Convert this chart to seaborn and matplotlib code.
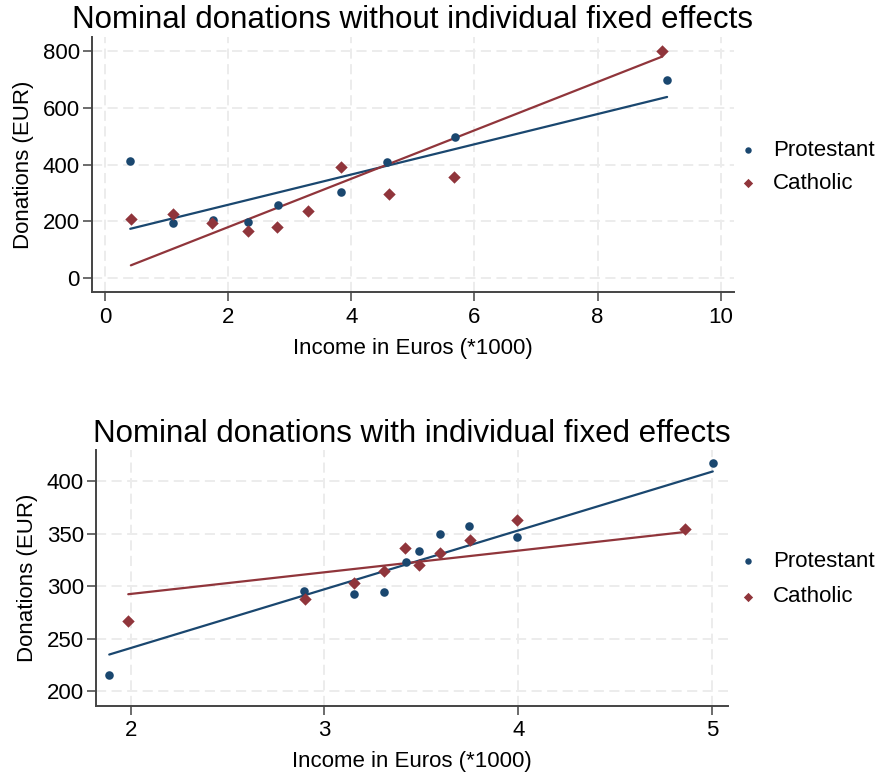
import matplotlib
matplotlib.use("Agg")
import matplotlib.pyplot as plt
import seaborn as sns
import numpy as np
import pandas as pd

# ---------------- data ----------------
groups = ["Protestant", "Catholic"]

# Panel 1: without individual fixed effects
p1_prot_x = [0.41, 1.10, 1.75, 2.32, 2.81, 3.83, 4.58, 5.68, 9.13]
p1_prot_y = [413, 194, 205, 197, 257, 303, 408, 498, 699]
p1_cath_x = [0.42, 1.10, 1.73, 2.32, 2.80, 3.30, 3.83, 4.61, 5.67, 9.05]
p1_cath_y = [208, 227, 196, 166, 182, 236, 393, 297, 356, 801]
# fitted lines (intercept, slope)
p1_fit_prot = [152.3, 53.2]
p1_fit_cath = [9.9, 85.1]

# Panel 2: with individual fixed effects
p2_prot_x = [1.89, 2.895, 3.155, 3.307, 3.421, 3.49, 3.594, 3.747, 3.995, 5.003]
p2_prot_y = [215.8, 296.0, 292.3, 294.5, 323.0, 333.9, 349.8, 357.4, 346.9, 417.2]
p2_cath_x = [1.988, 2.90, 3.155, 3.309, 3.418, 3.49, 3.594, 3.75, 3.995, 4.859]
p2_cath_y = [266.8, 288.0, 303.4, 315.1, 336.5, 320.8, 331.7, 344.6, 363.2, 354.6]
p2_fit_prot = [129.1, 56.06]
p2_fit_cath = [251.5, 20.65]

titles = ["Nominal donations without individual fixed effects",
          "Nominal donations with individual fixed effects"]
xlabel = "Income in Euros (*1000)"
ylabel = "Donations (EUR)"
p1_xticks = [0, 2, 4, 6, 8, 10]
p1_yticks = [0, 200, 400, 600, 800]
p2_xticks = [2, 3, 4, 5]
p2_yticks = [200, 250, 300, 350, 400]

# ---------------- style ----------------
sns.set_theme(style="white")
plt.rcParams['font.family'] = ['Liberation Sans', 'DejaVu Sans']

NAVY = "#1a476f"
MAROON = "#90353b"
GRID = "#ececec"
SPINE = "#444444"
palette = {"Protestant": NAVY, "Catholic": MAROON}
markers = {"Protestant": "o", "Catholic": "D"}
sizes = {"Protestant": 38, "Catholic": 40}

fig = plt.figure(figsize=(8.81, 7.76), dpi=100)
ax1 = fig.add_axes([0.1041, 0.6233, 0.8331 - 0.1041, 0.9527 - 0.6233])
ax2 = fig.add_axes([0.1086, 0.0906, 0.826 - 0.1086, 0.4201 - 0.0906])


def make_df(px, py, cx, cy):
    return pd.DataFrame({
        "x": list(px) + list(cx),
        "y": list(py) + list(cy),
        "group": ["Protestant"] * len(px) + ["Catholic"] * len(cx),
    })


def fit_df(px, cx, fp, fc):
    rows = []
    for g, xs, (a, b) in (("Protestant", px, fp), ("Catholic", cx, fc)):
        for xv in (min(xs), max(xs)):
            rows.append({"x": xv, "y": a + b * xv, "group": g})
    return pd.DataFrame(rows)


panels = [
    (ax1, make_df(p1_prot_x, p1_prot_y, p1_cath_x, p1_cath_y),
     fit_df(p1_prot_x, p1_cath_x, p1_fit_prot, p1_fit_cath),
     titles[0], p1_xticks, p1_yticks, (-0.216, 10.216), (-49.3, 850),
     (1.005, 0.49), 0.55),
    (ax2, make_df(p2_prot_x, p2_prot_y, p2_cath_x, p2_cath_y),
     fit_df(p2_prot_x, p2_cath_x, p2_fit_prot, p2_fit_cath),
     titles[1], p2_xticks, p2_yticks, (1.82, 5.08), (186.3, 430),
     (1.015, 0.495), 0.65),
]

for ax, df, fdf, title, xt, yt, xl, yl, lpos, lsp in panels:
    for g in groups:
        sub = df[df.group == g]
        sns.scatterplot(data=sub, x="x", y="y", color=palette[g],
                        marker=markers[g], s=sizes[g], linewidth=0,
                        ax=ax, label=g, zorder=3)
    for g in groups:
        sub = fdf[fdf.group == g]
        sns.lineplot(data=sub, x="x", y="y", color=palette[g], lw=1.6,
                     ax=ax, legend=False, zorder=2)
    ax.set_xlim(*xl)
    ax.set_ylim(*yl)
    ax.set_xticks(xt)
    ax.set_yticks(yt)
    ax.set_xticklabels([str(v) for v in xt])
    ax.set_yticklabels([str(v) for v in yt])
    ax.grid(True, color=GRID, lw=1.4, ls=(0, (5.2, 2.8)))
    ax.set_axisbelow(True)
    for s in ("top", "right"):
        ax.spines[s].set_visible(False)
    for s in ("left", "bottom"):
        ax.spines[s].set_color(SPINE)
        ax.spines[s].set_linewidth(1.4)
    ax.tick_params(axis="both", which="major", direction="out", length=6.5,
                   width=1.1, color=SPINE, labelsize=16, labelcolor="black",
                   bottom=True, left=True)
    ax.tick_params(axis="x", pad=4)
    ax.tick_params(axis="y", pad=2)
    ax.set_title(title, fontsize=22.5, pad=6, color="black")
    ax.set_xlabel(xlabel, fontsize=16, labelpad=7, color="black")
    ax.set_ylabel(ylabel, fontsize=16, labelpad=6, color="black")
    leg = ax.legend(loc="center left", bbox_to_anchor=lpos,
                    frameon=False, fontsize=16, handlelength=1.0,
                    handletextpad=0.6, markerscale=0.75, labelspacing=lsp,
                    borderaxespad=0, borderpad=0)
    for t in leg.get_texts():
        t.set_color("black")

fig.savefig("out.png", dpi=100)
